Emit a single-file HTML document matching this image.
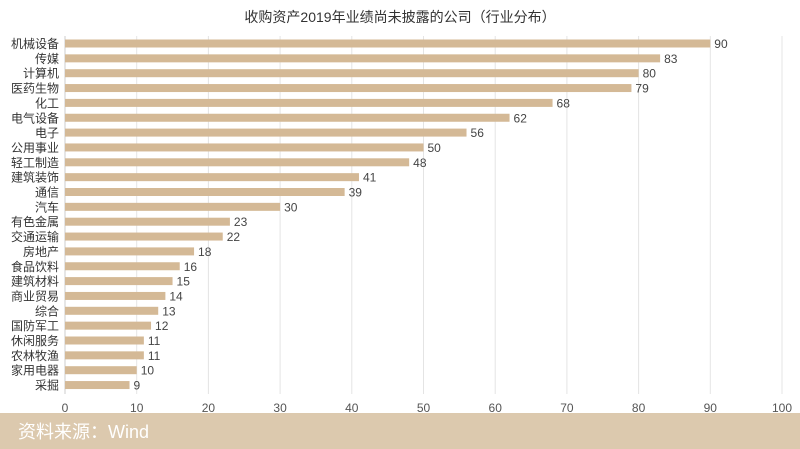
<!DOCTYPE html>
<html><head><meta charset="utf-8"><style>
body{margin:0;background:#fff;}
svg{display:block;font-family:"Liberation Sans","Noto Sans CJK SC",sans-serif;}
</style></head><body>
<svg id="c" width="800" height="449">
<rect x="0" y="0" width="800" height="449" fill="#fff"/>
<text x="400" y="22" text-anchor="middle" font-size="14" fill="#333">收购资产2019年业绩尚未披露的公司（行业分布）</text>
<g id="grid"></g><g id="bars"></g><g id="labels"></g>
<rect x="0" y="413" width="800" height="36" fill="#dcc9ae"/>
<text x="18" y="438" font-size="18" fill="#fff">资料来源：Wind</text>
</svg>
<script>
const categories=["机械设备","传媒","计算机","医药生物","化工","电气设备","电子","公用事业","轻工制造","建筑装饰","通信","汽车","有色金属","交通运输","房地产","食品饮料","建筑材料","商业贸易","综合","国防军工","休闲服务","农林牧渔","家用电器","采掘"];
const values=[90,83,80,79,68,62,56,50,48,41,39,30,23,22,18,16,15,14,13,12,11,11,10,9];
const ticks=[0,10,20,30,40,50,60,70,80,90,100];
const x0=65,x1=782,xMax=100,yTop=43.5,step=14.85,bh=8;
const X=v=>x0+(x1-x0)*v/xMax;
const Y=i=>yTop+i*step;
const NS="http://www.w3.org/2000/svg";
function mk(t,a,p){const e=document.createElementNS(NS,t);for(const k in a)e.setAttribute(k,a[k]);p.appendChild(e);return e;}
const g=document.getElementById('grid'),b=document.getElementById('bars'),l=document.getElementById('labels');
ticks.forEach(t=>{
 const ln=mk('line',{x1:X(t),x2:X(t),y1:36,y2:394,stroke:t===0?'#ccc':'#e4e4e4','stroke-width':1},g);
 
 
 const tx=mk('text',{x:X(t),y:412,'text-anchor':'middle','font-size':12,fill:'#555'},g);
 tx.textContent=t;
 
 
});
categories.forEach((c,i)=>{
 const r=mk('rect',{x:X(0),y:Y(i)-bh/2,width:X(values[i])-X(0),height:bh,fill:'#d4b996'},b);
 
 
 const ct=mk('text',{x:X(0)-6,y:Y(i)+4.5,'text-anchor':'end','font-size':12,fill:'#333'},l);
 ct.textContent=c;
 
 
 const vt=mk('text',{x:X(values[i])+4,y:Y(i)+4.5,'font-size':12,fill:'#444'},l);
 vt.textContent=values[i];
 
 
});
</script>
</body></html>
